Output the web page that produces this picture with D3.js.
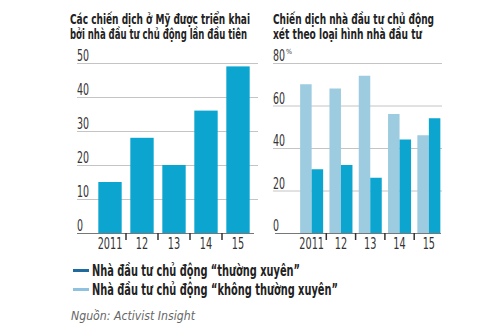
<!DOCTYPE html>
<html>
<head>
<meta charset="utf-8">
<script src="https://cdn.jsdelivr.net/npm/d3@7"></script>
<style>
  body { margin: 0; background: #fff; }
  text { font-family: "Liberation Sans Narrow", "DejaVu Sans Condensed", "Roboto", sans-serif; }
</style>
</head>
<body>
<div id="chart"></div>
<script>
const width = 500;
const height = 330;

// left chart: campaigns in the US
const years = ["2011", "12", "13", "14", "15"];
const campaigns = [15, 28, 20, 36, 49];
const leftTicks = [0, 10, 20, 30, 40, 50];

// right chart: share by investor type (%)
const frequent = [30, 32, 26, 44, 54];
const occasional = [70, 68, 74, 56, 46];
const rightTicks = [0, 20, 40, 60, 80];

const darkBlue = "#0ba5d0";
const lightBlue = "#9dcbdf";

const svg = d3.select("#chart").append("svg")
  .attr("width", width)
  .attr("height", height);

// squeeze text horizontally, the original uses a condensed face
function condense(sel, k) {
  sel.each(function() {
    const w = this.getComputedTextLength();
    d3.select(this).attr("textLength", w * k).attr("lengthAdjust", "spacingAndGlyphs");
  });
}

// titles
const titles = [
  { x: 70, y: 24, len: 180, text: "Các chiến dịch ở Mỹ được triển khai" },
  { x: 70, y: 39, len: 177, text: "bởi nhà đầu tư chủ động lần đầu tiên" },
  { x: 273, y: 24, len: 161, text: "Chiến dịch nhà đầu tư chủ động" },
  { x: 273, y: 39, len: 149, text: "xét theo loại hình nhà đầu tư" }
];
svg.selectAll("text.title")
  .data(titles)
  .join("text")
  .attr("class", "title")
  .attr("x", d => d.x).attr("y", d => d.y)
  .attr("font-size", "14.5px").attr("font-weight", "bold").attr("fill", "#222")
  .attr("textLength", d => d.len).attr("lengthAdjust", "spacingAndGlyphs")
  .text(d => d.text);

// ---- left chart
const left = svg.append("g");
const xL = d3.scaleBand().domain(years).range([94, 254])
  .paddingInner(0.27).paddingOuter(0.135);
const yL = d3.scaleLinear().domain([0, 50]).range([233, 63]);

left.selectAll("line.grid")
  .data(leftTicks.slice(1))
  .join("line")
  .attr("class", "grid")
  .attr("x1", 77).attr("x2", 258)
  .attr("y1", d => yL(d) + 0.5).attr("y2", d => yL(d) + 0.5)
  .attr("stroke", "#c4c4c4").attr("stroke-width", 1);

left.selectAll("text.ytick")
  .data(leftTicks)
  .join("text")
  .attr("class", "ytick")
  .attr("x", 77).attr("y", d => yL(d) - 2)
  .attr("font-size", "15px").attr("fill", "#333")
  .text(d => d)
  .call(condense, 0.7);

left.selectAll("rect")
  .data(campaigns)
  .join("rect")
  .attr("x", (d, i) => xL(years[i]))
  .attr("y", d => yL(d))
  .attr("width", xL.bandwidth())
  .attr("height", d => yL(0) - yL(d))
  .attr("fill", darkBlue);

// ---- right chart
const right = svg.append("g");
const xR = d3.scaleBand().domain(years).range([297, 443.5])
  .paddingInner(0.215).paddingOuter(0.1075);
const yR = d3.scaleLinear().domain([0, 80]).range([233, 63]);

right.selectAll("line.grid")
  .data(rightTicks.slice(1))
  .join("line")
  .attr("class", "grid")
  .attr("x1", 273).attr("x2", 442)
  .attr("y1", d => yR(d) + 0.5).attr("y2", d => yR(d) + 0.5)
  .attr("stroke", "#c4c4c4").attr("stroke-width", 1);

right.selectAll("text.ytick")
  .data(rightTicks)
  .join("text")
  .attr("class", "ytick")
  .attr("x", 273).attr("y", d => yR(d) - 2)
  .attr("font-size", "15px").attr("fill", "#333")
  .text(d => d)
  .call(condense, 0.7);

// little percent sign after the top label
const topLabel = right.selectAll("text.ytick").filter(d => d === 80).node();
right.append("text")
  .attr("x", 273 + topLabel.getComputedTextLength() + 1)
  .attr("y", yR(80) - 9)
  .attr("font-size", "7px").attr("fill", "#333")
  .text("%");

const half = xR.bandwidth() / 2;
right.selectAll("rect.occ")
  .data(occasional)
  .join("rect")
  .attr("class", "occ")
  .attr("x", (d, i) => xR(years[i]))
  .attr("y", d => yR(d))
  .attr("width", half)
  .attr("height", d => yR(0) - yR(d))
  .attr("fill", lightBlue);

right.selectAll("rect.freq")
  .data(frequent)
  .join("rect")
  .attr("class", "freq")
  .attr("x", (d, i) => xR(years[i]) + half)
  .attr("y", d => yR(d))
  .attr("width", half)
  .attr("height", d => yR(0) - yR(d))
  .attr("fill", darkBlue);

// baselines, ticks and year labels for both
[[left, xL, 77, 254], [right, xR, 275, 441]].forEach(([g, x, x0, x1]) => {
  g.append("line")
    .attr("x1", x0).attr("x2", x1)
    .attr("y1", 233.5).attr("y2", 233.5)
    .attr("stroke", "#777").attr("stroke-width", 1);

  g.selectAll("line.sep")
    .data(years.slice(1))
    .join("line")
    .attr("class", "sep")
    .attr("x1", d => x(d) - x.step() * x.paddingInner() / 2)
    .attr("x2", d => x(d) - x.step() * x.paddingInner() / 2)
    .attr("y1", 233).attr("y2", 240)
    .attr("stroke", "#333").attr("stroke-width", 1.5);

  g.selectAll("text.xtick")
    .data(years)
    .join("text")
    .attr("class", "xtick")
    .attr("x", d => x(d) + x.bandwidth() / 2)
    .attr("y", 249)
    .attr("text-anchor", "middle")
    .attr("font-size", "15px").attr("fill", "#333")
    .text(d => d)
    .call(condense, 0.72);
});

// legend
const legendItems = [
  { label: "Nhà đầu tư chủ động “thường xuyên”", color: "#1f6a9f", len: 208 },
  { label: "Nhà đầu tư chủ động “không thường xuyên”", color: "#8fc2de", len: 246 }
];
const legend = svg.append("g");
legend.selectAll("rect")
  .data(legendItems)
  .join("rect")
  .attr("x", 73).attr("y", (d, i) => 269 + i * 19)
  .attr("width", 16).attr("height", 3)
  .attr("fill", d => d.color);
legend.selectAll("text")
  .data(legendItems)
  .join("text")
  .attr("x", 92).attr("y", (d, i) => 276 + i * 19)
  .attr("font-size", "15px").attr("font-weight", "bold").attr("fill", "#222")
  .attr("textLength", d => d.len).attr("lengthAdjust", "spacingAndGlyphs")
  .text(d => d.label);

svg.append("text")
  .attr("x", 71).attr("y", 320)
  .attr("font-size", "13px").attr("font-style", "italic").attr("fill", "#666")
  .attr("textLength", 124).attr("lengthAdjust", "spacingAndGlyphs")
  .text("Nguồn: Activist Insight");
</script>
</body>
</html>
